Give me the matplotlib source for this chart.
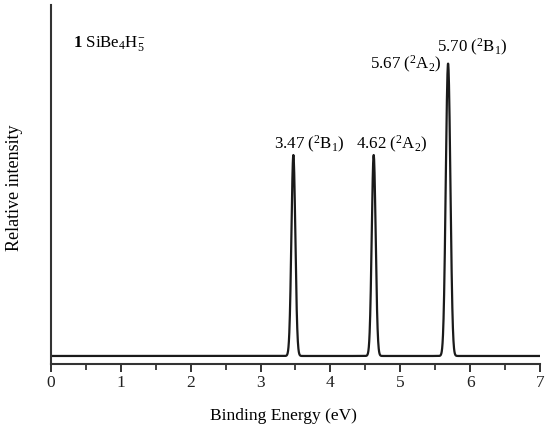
import numpy as np
import matplotlib
matplotlib.use("Agg")
import matplotlib.pyplot as plt
from matplotlib.ticker import MultipleLocator

plt.rcParams['font.family'] = ['Liberation Serif', 'DejaVu Serif']
plt.rcParams['mathtext.fontset'] = 'custom'
plt.rcParams['mathtext.rm'] = 'Liberation Serif'
plt.rcParams['mathtext.it'] = 'Liberation Serif:italic'
plt.rcParams['mathtext.bf'] = 'Liberation Serif:bold'

# Data
peak_energies = [3.47, 4.62, 5.67, 5.70]
peak_intensities = [1.0, 1.0, 0.84, 0.84]
peak_labels = [r"3.47 ($^{2}$B$_{1}$)", r"4.62 ($^{2}$A$_{2}$)",
               r"5.67 ($^{2}$A$_{2}$)", r"5.70 ($^{2}$B$_{1}$)"]
sigma = 0.028
x_ticks = [0, 1, 2, 3, 4, 5, 6, 7]

x = np.linspace(0, 7, 3501)
y = np.zeros_like(x)
for e, h in zip(peak_energies, peak_intensities):
    y += h * np.exp(-0.5 * ((x - e) / sigma) ** 2)

fig = plt.figure(figsize=(5.5, 4.29), dpi=100)
ax = fig.add_axes([0.0927, 0.1515, 0.889, 0.8365])
ax.plot(x, y, color='#1a1a1a', lw=1.6)
ax.set_xlim(0, 7)
ax.set_ylim(-0.04, 1.746)

for s in ['top', 'right']:
    ax.spines[s].set_visible(False)
for s in ['left', 'bottom']:
    ax.spines[s].set_linewidth(1.5)
    ax.spines[s].set_color('#333333')
ax.set_yticks([])
ax.set_xticks(x_ticks)
ax.xaxis.set_minor_locator(MultipleLocator(0.5))
ax.tick_params(axis='x', which='major', direction='out', length=6, width=1.3,
               labelsize=12.5, colors='#222222', pad=2)
ax.tick_params(axis='x', which='minor', direction='out', length=4, width=1.2, colors='#222222')

ax.set_xlabel('Binding Energy (eV)', fontsize=12.5)
ax.xaxis.set_label_coords(0.476, -0.122)
ax.set_ylabel('Relative intensity', fontsize=13)
ax.yaxis.set_label_coords(-0.058, 0.49)

label_pos = [(3.70, 1.055), (4.88, 1.055), (5.08, 1.45), (6.03, 1.535)]
for lab, (lx, ly) in zip(peak_labels, label_pos):
    ax.text(lx, ly, lab, ha='center', va='center', fontsize=12.2)

ax.text(0.31, 1.555, r"$\mathbf{1}$ SiBe$_{4}$H$_{5}^{-}$", ha='left', va='center', fontsize=12.2)

fig.savefig('out.png', dpi=100)
